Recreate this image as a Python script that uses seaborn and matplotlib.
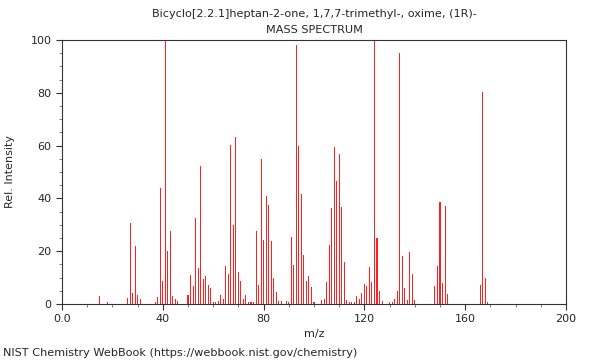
import matplotlib
matplotlib.use("Agg")
import matplotlib.pyplot as plt
import pandas as pd
import seaborn as sns
from matplotlib.ticker import FixedLocator, FixedFormatter, MultipleLocator

# peak positions (m/z) and relative intensities
mz = [15, 18, 26, 27, 28, 29, 30, 31, 37, 38, 39, 40, 41, 42, 43, 44, 45, 46,
      50, 51, 52, 53, 54, 55, 56, 57, 58, 59, 60, 61, 62, 63, 64, 65, 66, 67,
      68, 69, 70, 71, 72, 73, 74, 75, 76, 77, 78, 79, 80, 81, 82, 83, 84, 85,
      86, 87, 89, 90, 91, 92, 93, 94, 95, 96, 97, 98, 99, 100, 103, 104, 105,
      106, 107, 108, 109, 110, 111, 112, 113, 114, 115, 116, 117, 118, 119,
      120, 121, 122, 123, 124, 125, 126, 127, 130, 131, 132, 133, 134, 135,
      136, 137, 138, 139, 140, 148, 149, 150, 151, 152, 153, 166, 167, 168, 169]
intensity = [3.0, 0.7, 2.3, 30.8, 4.3, 22.0, 3.4, 2.0, 0.7, 2.8, 43.8, 8.6,
             100.0, 19.9, 27.6, 3.0, 2.0, 1.3,
             3.4, 11.0, 6.7, 32.6, 13.6, 52.3, 9.6, 10.5, 7.1, 6.1, 0.7, 0.7,
             1.3, 3.3, 2.0, 14.4, 11.5, 60.2, 29.9, 63.4, 12.1, 8.8, 2.0, 3.4,
             0.7, 0.7, 0.7, 27.5, 7.2, 55.0, 24.1, 41.0, 37.4, 24.0, 9.8, 4.5,
             1.3, 1.0, 1.0, 0.7, 25.4, 14.9, 98.1, 59.8, 41.7, 18.4, 8.7, 10.6,
             6.3, 0.7, 1.5, 2.0, 8.3, 22.3, 36.5, 59.6, 46.6, 56.8, 36.7, 15.8,
             1.5, 0.7, 0.7, 0.7, 3.0, 2.0, 4.2, 7.6, 6.9, 14.0, 8.3, 100.0,
             25.0, 4.9, 1.0, 0.7, 0.7, 2.0, 5.0, 95.2, 18.2, 6.2, 1.5, 19.6,
             11.5, 1.5, 6.8, 14.4, 38.8, 8.1, 37.1, 3.8, 7.1, 80.2, 9.8, 0.7]

x_ticks = [0, 40, 80, 120, 160, 200]
x_labels = ["0.0", "40", "80", "120", "160", "200"]
y_ticks = [0, 20, 40, 60, 80, 100]

title = "Bicyclo[2.2.1]heptan-2-one, 1,7,7-trimethyl-, oxime, (1R)-"
subtitle = "MASS SPECTRUM"
footer = "NIST Chemistry WebBook (https://webbook.nist.gov/chemistry)"

df = pd.DataFrame({"mz": mz, "intensity": intensity})

sns.set_style("ticks")
plt.rcParams["font.family"] = ["DejaVu Sans"]

fig = plt.figure(figsize=(6, 3.6), dpi=100)
ax = fig.add_axes([62 / 600, 56 / 360, 504 / 600, 264 / 360])

sns.barplot(
    data=df,
    x="mz",
    y="intensity",
    native_scale=True,
    color="#ff2020",
    saturation=1,
    width=0.42,
    linewidth=0,
    errorbar=None,
    ax=ax,
)

ax.set_xlim(0, 200)
ax.set_ylim(0, 100)
ax.xaxis.set_major_locator(FixedLocator(x_ticks))
ax.xaxis.set_major_formatter(FixedFormatter(x_labels))
ax.xaxis.set_minor_locator(MultipleLocator(10))
ax.yaxis.set_major_locator(FixedLocator(y_ticks))
ax.yaxis.set_minor_locator(MultipleLocator(5))
ax.tick_params(which="major", length=4, width=0.8, labelsize=8, color="#333333")
ax.tick_params(which="minor", length=2, width=0.6, color="#666666")
for s in ax.spines.values():
    s.set_visible(True)
    s.set_linewidth(0.8)
    s.set_color("#333333")

ax.set_xlabel("m/z", fontsize=8, labelpad=3)
ax.set_ylabel("Rel. Intensity", fontsize=8, labelpad=11)

fig.text(314 / 600, 1 - 14 / 360, title, ha="center", va="center", fontsize=8.1)
fig.text(314 / 600, 1 - 30 / 360, subtitle, ha="center", va="center", fontsize=8.1)
fig.text(3 / 600, 1 - 353 / 360, footer, ha="left", va="center", fontsize=8.1)

fig.savefig("out.png", dpi=100)
